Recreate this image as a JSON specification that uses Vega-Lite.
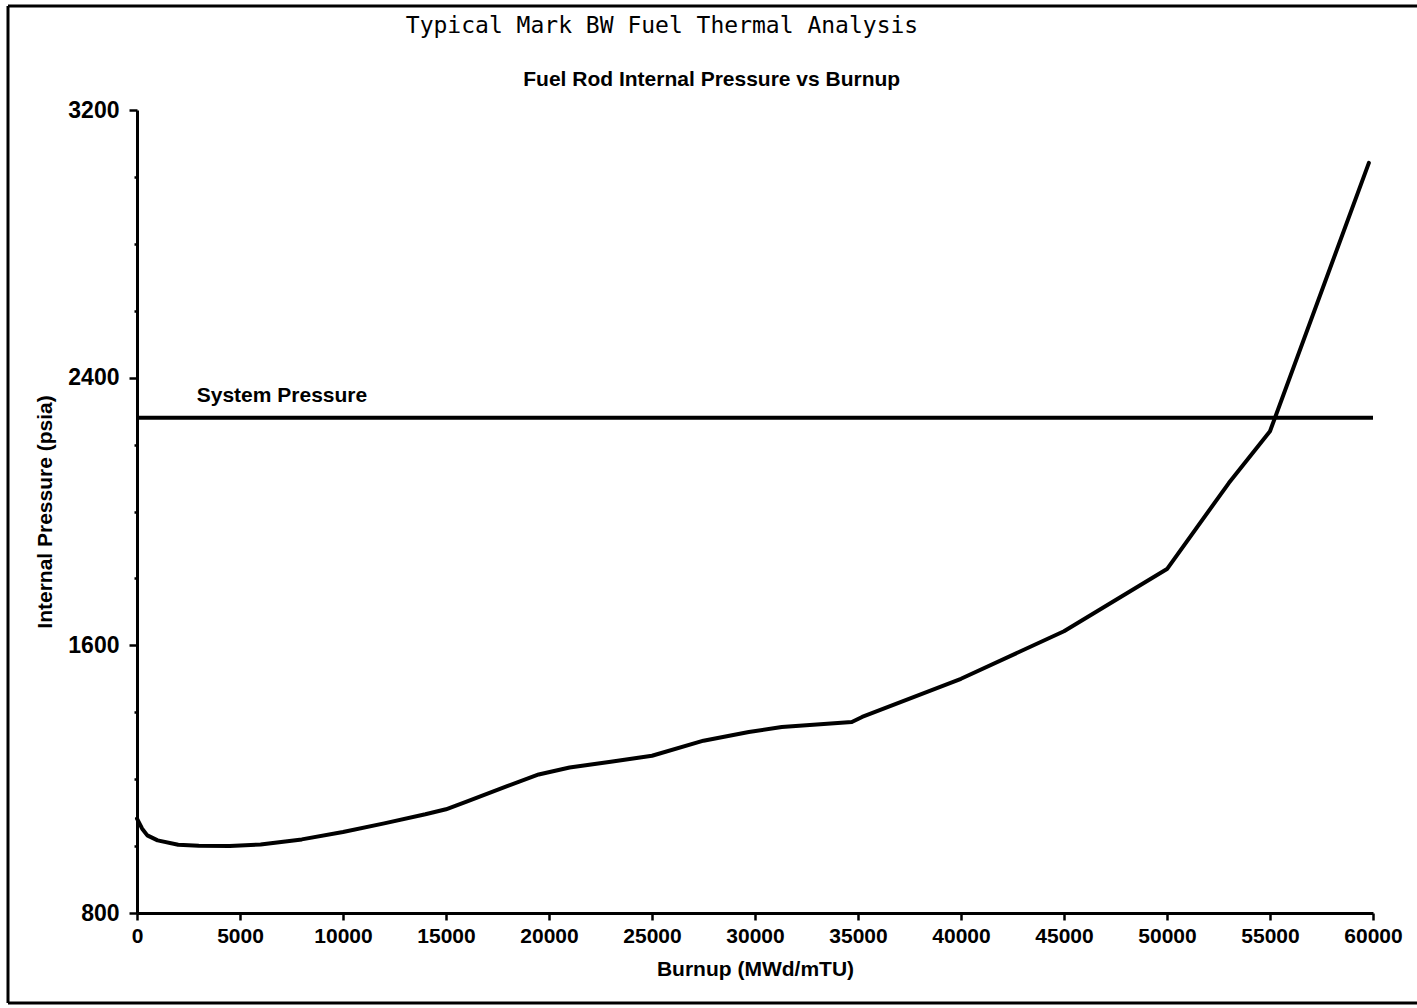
{
  "$schema": "https://vega.github.io/schema/vega-lite/v6.json",
  "width": 1236,
  "height": 803,
  "autosize": {"type": "none"},
  "padding": {"left": 137, "top": 110, "right": 44, "bottom": 95},
  "background": "white",
  "title": {
    "text": "Typical Mark BW Fuel Thermal Analysis",
    "font": "DejaVu Sans Mono",
    "fontSize": 23,
    "fontWeight": "normal",
    "color": "black",
    "anchor": "middle",
    "baseline": "alphabetic",
    "dx": -93,
    "offset": 0,
    "dy": 52
  },
  "config": {
    "view": {"stroke": null},
    "axis": {
      "domainColor": "black",
      "domainWidth": 3,
      "tickColor": "black",
      "tickWidth": 2.5,
      "labelColor": "black",
      "labelFont": "Liberation Sans",
      "labelFontWeight": "bold",
      "labelFontSize": 21,
      "titleColor": "black",
      "titleFont": "Liberation Sans",
      "titleFontWeight": "bold",
      "titleFontSize": 21,
      "grid": false
    }
  },
  "datasets": {
    "curve": [
      {"burnup": 0, "pressure": 1082},
      {"burnup": 250, "pressure": 1052},
      {"burnup": 500, "pressure": 1032},
      {"burnup": 1000, "pressure": 1017},
      {"burnup": 2000, "pressure": 1004},
      {"burnup": 3000, "pressure": 1001},
      {"burnup": 4500, "pressure": 1000},
      {"burnup": 6000, "pressure": 1005},
      {"burnup": 8000, "pressure": 1020},
      {"burnup": 10000, "pressure": 1042},
      {"burnup": 12000, "pressure": 1068},
      {"burnup": 14000, "pressure": 1095},
      {"burnup": 15000, "pressure": 1110},
      {"burnup": 16000, "pressure": 1133},
      {"burnup": 18000, "pressure": 1180},
      {"burnup": 19500, "pressure": 1214},
      {"burnup": 21000, "pressure": 1235},
      {"burnup": 23000, "pressure": 1252},
      {"burnup": 25000, "pressure": 1270},
      {"burnup": 27500, "pressure": 1315},
      {"burnup": 29700, "pressure": 1341},
      {"burnup": 31300, "pressure": 1356},
      {"burnup": 34700, "pressure": 1371},
      {"burnup": 35200, "pressure": 1386},
      {"burnup": 40000, "pressure": 1500},
      {"burnup": 45000, "pressure": 1642},
      {"burnup": 50000, "pressure": 1828},
      {"burnup": 53000, "pressure": 2085},
      {"burnup": 55000, "pressure": 2240},
      {"burnup": 59800, "pressure": 3042}
    ]
  },
  "layer": [
    {
      "data": {"name": "curve"},
      "mark": {"type": "line", "color": "black", "strokeWidth": 4, "strokeJoin": "round", "strokeCap": "round"},
      "encoding": {
        "x": {
          "field": "burnup", "type": "quantitative",
          "scale": {"domain": [0, 60000], "nice": false, "zero": false},
          "axis": {
            "title": "Burnup (MWd/mTU)",
            "values": [0, 5000, 10000, 15000, 20000, 25000, 30000, 35000, 40000, 45000, 50000, 55000, 60000],
            "format": "d",
            "tickSize": 7,
            "labelPadding": 5,
            "titlePadding": 12,
            "labelFlush": false,
            "labelOverlap": false
          }
        },
        "y": {
          "field": "pressure", "type": "quantitative",
          "scale": {"domain": [800, 3200], "nice": false, "zero": false},
          "axis": {
            "title": "Internal Pressure (psia)",
            "values": [800, 900, 1000, 1100, 1200, 1300, 1400, 1500, 1600, 1700, 1800, 1900, 2000, 2100, 2200, 2300, 2400, 2500, 2600, 2700, 2800, 2900, 3000, 3100, 3200],
            "format": "d",
            "labelExpr": "datum.value % 800 === 0 ? datum.label : ''",
            "labelFontSize": 23,
            "tickSize": {"condition": {"test": "datum.value % 800 === 0", "value": 8}, "value": 3},
            "labelPadding": 10,
            "titlePadding": 12,
            "labelFlush": false,
            "labelOverlap": false
          }
        }
      }
    },
    {
      "data": {"values": [{}]},
      "mark": {"type": "rule", "color": "black", "strokeWidth": 4},
      "encoding": {
        "x": {"datum": 0, "type": "quantitative", "scale": {"domain": [0, 60000], "nice": false, "zero": false}},
        "x2": {"datum": 60000},
        "y": {"datum": 2280, "type": "quantitative", "scale": {"domain": [800, 3200], "nice": false, "zero": false}}
      }
    },
    {
      "data": {"values": [{}]},
      "mark": {"type": "text", "text": "System Pressure", "font": "Liberation Sans", "fontWeight": "bold", "fontSize": 21, "align": "left", "baseline": "middle", "color": "black"},
      "encoding": {
        "x": {"datum": 2900, "type": "quantitative", "scale": {"domain": [0, 60000], "nice": false, "zero": false}},
        "y": {"datum": 2345, "type": "quantitative", "scale": {"domain": [800, 3200], "nice": false, "zero": false}}
      }
    },
    {
      "data": {"values": [{}]},
      "mark": {"type": "text", "text": "Fuel Rod Internal Pressure vs Burnup", "font": "Liberation Sans", "fontWeight": "bold", "fontSize": 21, "align": "center", "baseline": "middle", "color": "black"},
      "encoding": {
        "x": {"datum": 27900, "type": "quantitative", "scale": {"domain": [0, 60000], "nice": false, "zero": false}},
        "y": {"datum": 3290, "type": "quantitative", "scale": {"domain": [800, 3200], "nice": false, "zero": false}}
      }
    },
    {
      "data": {"values": [{}]},
      "mark": {"type": "rule", "color": "black", "strokeWidth": 3},
      "encoding": {
        "x": {"datum": -6262, "type": "quantitative", "scale": {"domain": [0, 60000], "nice": false, "zero": false}},
        "y": {"datum": 531, "type": "quantitative", "scale": {"domain": [800, 3200], "nice": false, "zero": false}},
        "y2": {"datum": 3511}
      }
    },
    {
      "data": {"values": [{}]},
      "mark": {"type": "rule", "color": "black", "strokeWidth": 3},
      "encoding": {
        "x": {"datum": -6262, "type": "quantitative", "scale": {"domain": [0, 60000], "nice": false, "zero": false}},
        "x2": {"datum": 63000},
        "y": {"datum": 3511, "type": "quantitative", "scale": {"domain": [800, 3200], "nice": false, "zero": false}}
      }
    },
    {
      "data": {"values": [{}]},
      "mark": {"type": "rule", "color": "black", "strokeWidth": 3},
      "encoding": {
        "x": {"datum": -6262, "type": "quantitative", "scale": {"domain": [0, 60000], "nice": false, "zero": false}},
        "x2": {"datum": 63000},
        "y": {"datum": 531, "type": "quantitative", "scale": {"domain": [800, 3200], "nice": false, "zero": false}}
      }
    }
  ]
}
